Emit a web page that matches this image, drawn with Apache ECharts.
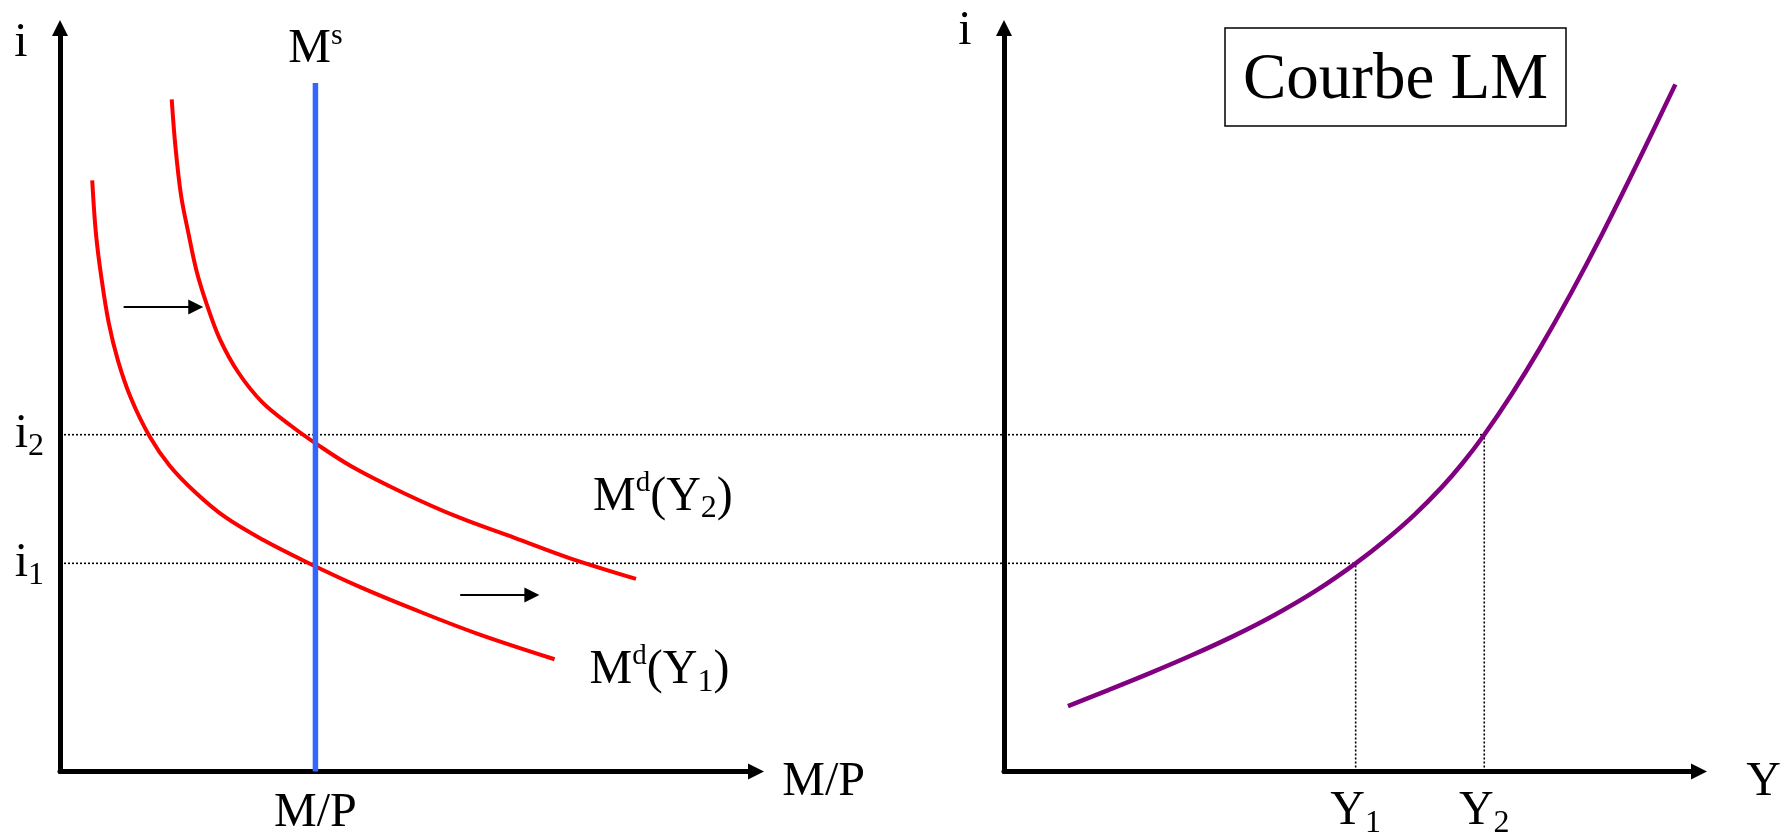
<!DOCTYPE html>
<html><head><meta charset="utf-8">
<script src="https://cdn.jsdelivr.net/npm/echarts@6/dist/echarts.min.js"></script>
<style>html,body{margin:0;padding:0;background:#fff}#c{width:1782px;height:839px}</style>
</head><body><div id="c"></div>
<script>
// ---- Data (abstract units, 0–100 on every axis) ----
const mdY1 = [[4.63,79.5],[5.16,72.4],[5.95,66.4],[7.01,60.3],[8.35,55.2],[10.2,50.2],[12.86,45.1],[15.79,41.1],[19.51,37.5],[23.76,34.2],[29.08,31.2],[35.46,28.15],[42.9,24.9],[50.88,21.8],[59.91,18.55],[71.06,15.1]];
const mdY2 = [[16.05,90.4],[16.58,84.1],[17.39,77.5],[18.45,72.4],[19.6,67.4],[21.1,62.8],[22.9,58.3],[25.6,53.7],[29.08,49.65],[33.33,46.4],[36.78,44.1],[41.84,41.06],[49.28,37.5],[57.24,34.2],[65.23,31.45],[73.19,28.7],[82.76,25.9]];
const lmCurve = [[9.2,8.8],[15,10.95],[21,13.23],[27,15.63],[33,18.21],[39,21.09],[45,24.39],[50.6,28.0],[55,31.21],[59,34.49],[63,38.25],[66,41.49],[69.1,45.3],[73,50.68],[77,56.76],[81.5,64.19],[86,72.16],[91,81.56],[96.6,92.42]];
const moneySupply = [[36.7,0],[36.7,92.6]];
const rateLevels = [28.0, 45.3];          // i1, i2
const rateSubs = ['1', '2'];
const incomeLevels = [50.6, 69.1];        // Y1, Y2
const incomeSubs = ['1', '2'];
const realMoneyTick = [36.7];
const shiftArrows = [[[9.14,62.46],[19.5,62.46]], [[57.5,23.75],[67.8,23.75]]];
const curveLabels = ['{m|M}{sup|d}{m|(Y}{sub|1}{m|)}', '{m|M}{sup|d}{m|(Y}{sub|2}{m|)}', '{m|M}{ssup|s}'];
const axisNames = ['{g| }{n|M/P}', '{g| }{n|Y}', 'i'];
const titleText = 'Courbe LM';

const FF = 'Liberation Serif, Times New Roman, serif';
const rich = {
  m: {fontFamily: FF, fontSize: 48, lineHeight: 56, color: '#000'},
  sup: {fontFamily: FF, fontSize: 29, lineHeight: 42, verticalAlign: 'top', color: '#000'},
  ssup: {fontFamily: FF, fontSize: 30, lineHeight: 52, verticalAlign: 'top', color: '#000'},
  sub: {fontFamily: FF, fontSize: 32, lineHeight: 24, verticalAlign: 'bottom', color: '#000'},
  g: {fontFamily: FF, fontSize: 1, lineHeight: 70, color: '#000'},
  n: {fontFamily: FF, fontSize: 48, lineHeight: 56, verticalAlign: 'bottom', color: '#000'}
};

function axisLineStyle() {
  return {show: true, onZero: false, symbol: ['none', 'triangle'], symbolSize: [16, 16],
          lineStyle: {color: '#000', width: 5}};
}
const nameStyle = {fontFamily: FF, fontSize: 48, lineHeight: 56, color: '#000'};
const xNameStyle = {fontFamily: FF, fontSize: 48, color: '#000', rich: rich};
const hiddenAxis = {type: 'value', min: 0, max: 100, show: false};

const chart = echarts.init(document.getElementById('c'), null, {renderer: 'canvas'});
const dotted = {color: '#000', width: 1.6, type: [2, 2]};

const option = {
  animation: false,
  backgroundColor: '#fff',
  title: {
    text: titleText, left: 1225, top: 28, padding: [15, 18, 7, 18],
    borderColor: '#000', borderWidth: 1.5,
    textStyle: {fontFamily: FF, fontSize: 65, fontWeight: 'normal', color: '#000', lineHeight: 76}
  },
  grid: [
    {left: 60, right: 1026, top: 28, bottom: 67.5, outerBoundsMode: 'none'},
    {left: 1004, right: 83, top: 28, bottom: 67.5, outerBoundsMode: 'none'},
    {left: 60, right: 83, top: 28, bottom: 67.5, outerBoundsMode: 'none'}
  ],
  xAxis: [
    {type: 'value', gridIndex: 0, min: 0, max: 100,
     axisLine: axisLineStyle(), axisTick: {show: false}, splitLine: {show: false},
     axisLabel: {customValues: realMoneyTick, formatter: () => '{m|M/P}', rich: rich, margin: 14},
     name: axisNames[0], nameLocation: 'end', nameGap: 26, nameTextStyle: xNameStyle},
    {type: 'value', gridIndex: 1, min: 0, max: 100,
     axisLine: axisLineStyle(), axisTick: {show: false}, splitLine: {show: false},
     axisLabel: {customValues: incomeLevels,
       formatter: (v) => '{m|Y}{sub|' + incomeSubs[incomeLevels.indexOf(v)] + '}', rich: rich, margin: 12},
     name: axisNames[1], nameLocation: 'end', nameGap: 47, nameTextStyle: xNameStyle},
    Object.assign({gridIndex: 2}, hiddenAxis)
  ],
  yAxis: [
    {type: 'value', gridIndex: 0, min: 0, max: 100,
     axisLine: axisLineStyle(), axisTick: {show: false}, splitLine: {show: false},
     axisLabel: {customValues: rateLevels,
       formatter: (v) => '{m|i}{sub|' + rateSubs[rateLevels.indexOf(v)] + '}', rich: rich, margin: 16},
     name: axisNames[2], nameLocation: 'end', nameGap: -15,
     nameTextStyle: Object.assign({align: 'center', verticalAlign: 'middle', padding: [0, 78, 0, 0]}, nameStyle)},
    {type: 'value', gridIndex: 1, min: 0, max: 100,
     axisLine: axisLineStyle(), axisTick: {show: false}, splitLine: {show: false},
     axisLabel: {show: false},
     name: axisNames[2], nameLocation: 'end', nameGap: -3,
     nameTextStyle: Object.assign({align: 'center', verticalAlign: 'middle', padding: [0, 78, 0, 0]}, nameStyle)},
    Object.assign({gridIndex: 2}, hiddenAxis)
  ],
  series: [
    {id: 'i1line', type: 'line', xAxisIndex: 2, yAxisIndex: 2, symbol: 'none', silent: true, z: 1,
     lineStyle: dotted, data: []},
    {id: 'i2line', type: 'line', xAxisIndex: 2, yAxisIndex: 2, symbol: 'none', silent: true, z: 1,
     lineStyle: dotted, data: []},
    {id: 'y1line', type: 'line', xAxisIndex: 1, yAxisIndex: 1, symbol: 'none', silent: true, z: 1,
     lineStyle: dotted, data: [[incomeLevels[0], 0], [incomeLevels[0], rateLevels[0]]]},
    {id: 'y2line', type: 'line', xAxisIndex: 1, yAxisIndex: 1, symbol: 'none', silent: true, z: 1,
     lineStyle: dotted, data: [[incomeLevels[1], 0], [incomeLevels[1], rateLevels[1]]]},
    {type: 'line', xAxisIndex: 0, yAxisIndex: 0, symbol: 'none', smooth: 0.35, z: 3,
     lineStyle: {color: '#ff0000', width: 4}, data: mdY1},
    {type: 'line', xAxisIndex: 0, yAxisIndex: 0, symbol: 'none', smooth: 0.35, z: 3,
     lineStyle: {color: '#ff0000', width: 4}, data: mdY2},
    {type: 'line', xAxisIndex: 0, yAxisIndex: 0, symbol: 'none', z: 4,
     lineStyle: {color: '#3366ff', width: 5.5}, data: moneySupply},
    {type: 'line', xAxisIndex: 1, yAxisIndex: 1, symbol: 'none', smooth: 0.35, z: 3,
     lineStyle: {color: '#800080', width: 4.5}, data: lmCurve},
    {type: 'lines', coordinateSystem: 'cartesian2d', xAxisIndex: 0, yAxisIndex: 0, z: 5,
     symbol: ['none', 'triangle'], symbolSize: 15,
     lineStyle: {color: '#000', width: 2, opacity: 1},
     data: shiftArrows.map(c => ({coords: c}))},
    {type: 'scatter', xAxisIndex: 0, yAxisIndex: 0, symbolSize: 0, silent: true, z: 6,
     itemStyle: {color: '#000', opacity: 1},
     label: {show: true, rich: rich, color: '#000', opacity: 1},
     data: [
       {value: mdY1[mdY1.length - 1], label: {position: 'right', distance: 35, offset: [0, 11], formatter: curveLabels[0]}},
       {value: mdY2[mdY2.length - 1], label: {position: 'right', distance: 5, offset: [-48, -82], formatter: curveLabels[1]}},
       {value: moneySupply[1], label: {position: 'top', distance: 6, formatter: curveLabels[2]}}
     ]}
  ]
};
chart.setOption(option);

// Horizontal guide lines: from the left panel's i-axis to the LM curve (overlay grid spans both panels)
const ends = rateLevels.map((r, k) => {
  const px = chart.convertToPixel({xAxisIndex: 1, yAxisIndex: 1}, [incomeLevels[k], r]);
  const a = chart.convertToPixel({xAxisIndex: 2, yAxisIndex: 2}, [0, r]);
  const b = chart.convertToPixel({xAxisIndex: 2, yAxisIndex: 2}, [100, r]);
  return (px[0] - a[0]) / (b[0] - a[0]) * 100;
});
chart.setOption({series: [
  {id: 'i1line', data: [[0, rateLevels[0]], [ends[0], rateLevels[0]]]},
  {id: 'i2line', data: [[0, rateLevels[1]], [ends[1], rateLevels[1]]]}
]});
</script></body></html>
